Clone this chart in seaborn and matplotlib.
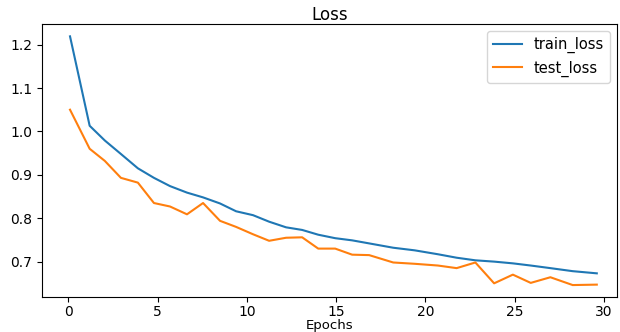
import matplotlib
matplotlib.use("Agg")
import matplotlib.pyplot as plt
import seaborn as sns
import pandas as pd

epochs = [0.1, 1.2, 2.05, 2.95, 3.9, 4.8, 5.7, 6.65, 7.55, 8.5,
          9.4, 10.35, 11.25, 12.2, 13.1, 14.0, 14.95, 15.9, 16.85, 18.2,
          19.4, 20.7, 21.75, 22.8, 23.85, 24.9, 25.9, 27.0, 28.25, 29.6]

train_loss = [1.219, 1.013, 0.979, 0.948, 0.915, 0.893, 0.874, 0.859, 0.848, 0.834,
              0.816, 0.807, 0.792, 0.779, 0.773, 0.762, 0.754, 0.749, 0.742, 0.732,
              0.726, 0.717, 0.709, 0.703, 0.700, 0.696, 0.691, 0.685, 0.678, 0.673]

test_loss = [1.050, 0.960, 0.932, 0.893, 0.882, 0.835, 0.827, 0.809, 0.835, 0.794,
             0.780, 0.763, 0.748, 0.755, 0.756, 0.730, 0.730, 0.716, 0.715, 0.698,
             0.695, 0.691, 0.685, 0.698, 0.650, 0.670, 0.651, 0.664, 0.646, 0.647]

series_names = ["train_loss", "test_loss"]
colors = ["#1f77b4", "#ff7f0e"]

df = pd.DataFrame({
    "epoch": epochs + epochs,
    "loss": train_loss + test_loss,
    "series": [series_names[0]] * len(epochs) + [series_names[1]] * len(epochs),
})

fig = plt.figure(figsize=(6.2, 3.32), dpi=100)
ax = fig.add_axes([0.068, 0.104, 0.9277, 0.824])

sns.lineplot(data=df, x="epoch", y="loss", hue="series", hue_order=series_names,
             palette=colors, linewidth=1.5, ax=ax, estimator=None, sort=False)

ax.set_xlim(-1.46, 30.75)
ax.set_ylim(0.6174, 1.2477)
ax.set_xticks([0, 5, 10, 15, 20, 25, 30])
ax.set_yticks([0.7, 0.8, 0.9, 1.0, 1.1, 1.2])
ax.tick_params(labelsize=10)
ax.tick_params(axis="x", pad=2)
ax.set_title("Loss", fontsize=12, pad=2.5)
ax.set_xlabel("Epochs", fontsize=9.5, labelpad=0)
ax.set_ylabel("")

handles, labels = ax.get_legend_handles_labels()
ax.legend(handles, labels, loc="upper right", fontsize=10.5)

fig.savefig("out.png", dpi=100)
